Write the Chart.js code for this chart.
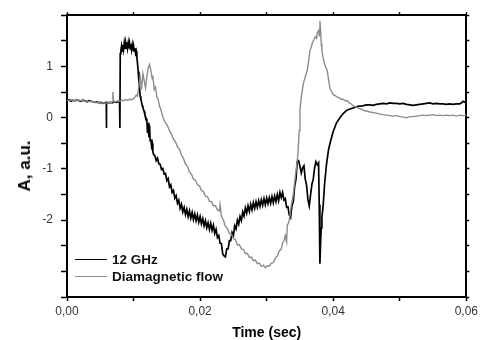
<!DOCTYPE html>
<html>
<head>
<meta charset="utf-8">
<script src="https://cdn.jsdelivr.net/npm/chart.js@4.4.0/dist/chart.umd.min.js"></script>
<style>
    body { margin: 0; background: #fff; }
    #wrap { position: relative; width: 481px; height: 340px; }
    #legend {
        position: absolute; left: 75px; top: 251px;
        font: bold 13.5px "Liberation Sans", Arial, sans-serif; color: #111;
    }
    .row { display: flex; align-items: center; height: 17px; white-space: nowrap; }
    .sw { width: 32px; height: 0; margin-right: 5px; }
    #ytitle {
        position: absolute; left: 25px; top: 166px;
        transform: translate(-50%, -50%) rotate(-90deg);
        font: bold 17px "Liberation Sans", Arial, sans-serif; color: #000; white-space: nowrap;
    }
</style>
</head>
<body>
<div id="wrap">
    <canvas id="chart" width="481" height="340"></canvas>
    <div id="ytitle">A, a.u.</div>
    <div id="legend">
        <div class="row"><span class="sw" style="border-top:1.6px solid #000"></span>12 GHz</div>
        <div class="row"><span class="sw" style="border-top:1.6px solid #8c8c8c"></span>Diamagnetic flow</div>
    </div>
</div>
<script>
// time (sec) and amplitude of the 12 GHz signal
const t12 = [
    0.0000,0.0003,0.0006,0.0009,0.0012,0.0015,0.0018,0.0021,0.0024,0.0027,
    0.0030,0.0033,0.0036,0.0039,0.0042,0.0045,0.0048,0.0051,0.0054,0.0057,
    0.0059,0.00592,0.00595,0.0062,0.0065,0.0068,0.0071,0.0074,0.0077,0.0079,
    0.00795,0.0080,0.0081,0.0082,0.0083,0.0084,0.0085,0.0086,0.0087,0.0088,
    0.0089,0.0090,0.0091,0.0092,0.0093,0.0094,0.0095,0.0096,0.0097,0.0098,
    0.0099,0.0100,0.0101,0.0102,0.0103,0.0104,0.0105,0.0106,0.0107,0.0108,
    0.0109,0.0110,0.0111,0.0112,0.0113,0.0114,0.0115,0.0116,0.0117,0.0118,
    0.0119,0.0120,0.0121,0.0122,0.0123,0.0124,0.0125,0.0126,0.0127,0.0128,
    0.0129,0.0130,0.0132,0.0134,0.0136,0.0138,0.0140,0.0142,0.0144,0.0146,
    0.0148,0.0150,0.0152,0.0154,0.0156,0.0158,0.0160,0.0162,0.0164,0.0166,
    0.0168,0.0170,0.0172,0.0174,0.0176,0.0178,0.0180,0.0182,0.0184,0.0186,
    0.0188,0.0190,0.0192,0.0194,0.0196,0.0198,0.0200,0.0202,0.0204,0.0206,
    0.0208,0.0210,0.0212,0.0214,0.0216,0.0218,0.0220,0.0222,0.0224,0.0226,
    0.0228,0.0230,0.0232,0.0234,0.0236,0.0238,0.0240,0.0242,0.0244,0.0246,
    0.0248,0.0250,0.0252,0.0254,0.0256,0.0258,0.0260,0.0262,0.0264,0.0266,
    0.0268,0.0270,0.0272,0.0274,0.0276,0.0278,0.0280,0.0282,0.0284,0.0286,
    0.0288,0.0290,0.0292,0.0294,0.0296,0.0298,0.0300,0.0302,0.0304,0.0306,
    0.0308,0.0310,0.0312,0.0314,0.0316,0.0318,0.0320,0.0322,0.0324,0.0326,
    0.0328,0.0330,0.0332,0.0334,0.0336,0.0338,0.0340,0.0342,0.0344,0.0346,
    0.0348,0.0350,0.0352,0.0354,0.0356,0.0358,0.0360,0.0362,0.0364,0.0366,
    0.0368,0.0370,0.0372,0.0374,0.0376,0.0378,0.0379,0.0380,0.0381,0.0382,
    0.0383,0.0385,0.0387,0.0390,0.0393,0.0396,0.0400,0.0405,0.0410,0.0415,
    0.0420,0.0425,0.0430,0.0437,0.0444,0.0450,0.0455,0.0460,0.0465,0.0470,
    0.0475,0.0480,0.0485,0.0490,0.0495,0.0500,0.0505,0.0510,0.0515,0.0520,
    0.0525,0.0530,0.0535,0.0540,0.0545,0.0550,0.0555,0.0560,0.0565,0.0570,
    0.0575,0.0580,0.0585,0.0590,0.0593,0.0595,0.0598,0.0600
];
const a12 = [
    0.33,0.35,0.32,0.34,0.33,0.35,0.33,0.32,0.34,0.33,
    0.31,0.33,0.32,0.31,0.30,0.31,0.29,0.30,0.28,0.29,
    0.29,-0.20,0.30,0.29,0.30,0.29,0.31,0.30,0.31,0.30,
    -0.20,1.25,1.32,1.40,1.30,1.42,1.33,1.45,1.34,1.46,
    1.35,1.47,1.36,1.46,1.35,1.45,1.34,1.44,1.33,1.42,
    1.31,1.40,1.30,1.36,1.26,1.30,1.18,1.05,0.90,0.72,
    0.58,0.42,0.36,0.30,0.24,0.20,0.16,0.12,0.06,0.02,
    -0.02,-0.05,-0.30,-0.10,-0.38,-0.15,-0.45,-0.42,-0.55,-0.50,
    -0.66,-0.72,-0.74,-0.84,-0.79,-0.90,-0.91,-1.01,-0.99,-1.10,
    -1.09,-1.23,-1.19,-1.35,-1.31,-1.46,-1.42,-1.57,-1.52,-1.67,
    -1.61,-1.77,-1.69,-1.84,-1.75,-1.89,-1.79,-1.93,-1.82,-1.96,
    -1.85,-1.99,-1.88,-2.01,-1.90,-2.04,-1.93,-2.07,-1.97,-2.11,
    -2.01,-2.15,-2.05,-2.18,-2.06,-2.20,-2.10,-2.26,-2.18,-2.34,
    -2.30,-2.45,-2.46,-2.66,-2.70,-2.72,-2.56,-2.56,-2.40,-2.40,
    -2.24,-2.30,-2.11,-2.17,-2.00,-2.08,-1.93,-2.01,-1.84,-1.92,
    -1.76,-1.86,-1.72,-1.83,-1.69,-1.80,-1.66,-1.77,-1.64,-1.75,
    -1.62,-1.73,-1.60,-1.71,-1.58,-1.70,-1.57,-1.68,-1.56,-1.67,
    -1.54,-1.66,-1.53,-1.64,-1.50,-1.62,-1.46,-1.56,-1.46,-1.61,
    -1.58,-1.75,-1.74,-1.90,-1.95,-1.72,-1.64,-1.35,-1.20,-0.86,
    -0.84,-0.95,-1.08,-0.98,-0.94,-1.20,-1.32,-1.60,-1.72,-1.50,
    -1.30,-1.20,-0.98,-0.86,-0.92,-0.88,-1.70,-2.85,-2.45,-2.15,
    -1.95,-1.70,-1.30,-0.90,-0.62,-0.46,-0.27,-0.10,0.00,0.08,
    0.14,0.17,0.19,0.22,0.23,0.25,0.25,0.24,0.26,0.27,
    0.28,0.27,0.29,0.28,0.28,0.27,0.28,0.26,0.25,0.24,
    0.25,0.26,0.27,0.28,0.29,0.27,0.28,0.27,0.27,0.26,
    0.27,0.26,0.27,0.27,0.29,0.32,0.30,0.31
];

// time (sec) and amplitude of the diamagnetic flow
const tDia = [
    0.0000,0.0003,0.0006,0.0009,0.0012,0.0015,0.0018,0.0021,0.0024,0.0027,
    0.0030,0.0033,0.0036,0.0039,0.0042,0.0045,0.0048,0.0051,0.0054,0.0057,
    0.0060,0.0063,0.0066,0.0068,0.0069,0.0070,0.0073,0.0076,0.0079,0.0082,
    0.0085,0.0088,0.0091,0.0094,0.0097,0.0100,0.0102,0.0104,0.0106,0.0108,
    0.0110,0.0112,0.0114,0.0116,0.0118,0.0120,0.0122,0.0124,0.0126,0.0128,
    0.0129,0.0131,0.0133,0.0135,0.0137,0.0139,0.0141,0.0143,0.0145,0.0148,
    0.0151,0.0154,0.0157,0.0160,0.0163,0.0166,0.0169,0.0172,0.0175,0.0178,
    0.0181,0.0184,0.0187,0.0190,0.0193,0.0196,0.0199,0.0202,0.0205,0.0208,
    0.0211,0.0214,0.0217,0.0220,0.0223,0.0226,0.0229,0.0230,0.0232,0.0235,
    0.0238,0.0241,0.0244,0.0247,0.0250,0.0253,0.0256,0.0259,0.0262,0.0265,
    0.0268,0.0271,0.0274,0.0277,0.0280,0.0283,0.0286,0.0289,0.0292,0.0295,
    0.0298,0.0301,0.0304,0.0307,0.0310,0.0313,0.0316,0.0319,0.0322,0.0324,
    0.0326,0.0328,0.0330,0.0331,0.0333,0.0335,0.0337,0.0339,0.0341,0.0343,
    0.0345,0.0347,0.0349,0.0350,0.0352,0.0355,0.0358,0.0361,0.0363,0.0365,
    0.0367,0.0369,0.0371,0.0373,0.0375,0.0376,0.0378,0.0379,0.0380,0.0381,
    0.0382,0.0383,0.0385,0.0387,0.0389,0.0391,0.0393,0.0395,0.0397,0.0400,
    0.0403,0.0406,0.0409,0.0412,0.0415,0.0418,0.0421,0.0424,0.0427,0.0430,
    0.0434,0.0438,0.0442,0.0446,0.0450,0.0455,0.0460,0.0465,0.0470,0.0475,
    0.0480,0.0485,0.0490,0.0495,0.0500,0.0505,0.0510,0.0515,0.0520,0.0525,
    0.0530,0.0535,0.0540,0.0545,0.0550,0.0555,0.0560,0.0565,0.0570,0.0575,
    0.0580,0.0585,0.0590,0.0595,0.0600
];
const aDia = [
    0.34,0.33,0.35,0.34,0.33,0.35,0.34,0.33,0.34,0.32,
    0.33,0.31,0.32,0.31,0.30,0.29,0.30,0.28,0.29,0.28,
    0.29,0.30,0.29,0.31,0.50,0.33,0.31,0.33,0.32,0.34,
    0.33,0.35,0.34,0.36,0.35,0.37,0.40,0.44,0.42,0.62,
    0.78,0.55,0.86,0.72,0.58,0.80,0.97,1.04,0.92,0.76,
    0.82,0.55,0.60,0.40,0.36,0.22,0.16,0.06,-0.02,-0.10,
    -0.16,-0.26,-0.32,-0.42,-0.47,-0.57,-0.62,-0.73,-0.80,-0.90,
    -0.95,-1.06,-1.10,-1.20,-1.22,-1.31,-1.33,-1.42,-1.44,-1.53,
    -1.54,-1.63,-1.64,-1.72,-1.72,-1.80,-1.82,-1.70,-1.92,-2.00,
    -2.12,-2.16,-2.26,-2.27,-2.36,-2.38,-2.48,-2.48,-2.56,-2.57,
    -2.65,-2.65,-2.73,-2.72,-2.79,-2.78,-2.85,-2.84,-2.90,-2.88,
    -2.93,-2.89,-2.90,-2.84,-2.83,-2.74,-2.70,-2.60,-2.56,-2.44,
    -2.40,-2.30,-2.42,-2.10,-2.05,-1.92,-1.70,-1.58,-1.40,-1.15,
    -0.95,-0.70,-0.25,0.14,0.40,0.66,0.80,0.92,1.10,1.31,
    1.38,1.47,1.52,1.58,1.55,1.66,1.70,1.60,1.89,1.72,
    1.45,1.31,1.16,1.04,0.98,0.92,0.75,0.58,0.52,0.45,
    0.43,0.40,0.39,0.36,0.36,0.33,0.33,0.29,0.27,0.23,
    0.21,0.18,0.17,0.14,0.13,0.11,0.10,0.09,0.07,0.06,
    0.05,0.04,0.03,0.04,0.02,0.01,0.00,0.02,0.02,0.03,
    0.04,0.05,0.04,0.05,0.06,0.04,0.05,0.04,0.05,0.04,
    0.05,0.03,0.05,0.04,0.05
];

// axis ranges and labelled ticks
const xMin = 0, xMax = 0.06, xStep = 0.01;
const yMin = -3.5, yMax = 2, yStep = 0.5;
const yLabelled = [1, 0, -1, -2];

const fontFam = '"Liberation Sans", Arial, sans-serif';

function toPoints(ts, vs) {
    return ts.map((t, i) => ({ x: t, y: vs[i] }));
}

// plain frame axis (top / right): only tick marks, no labels
function frameAxis(position, min, max, step) {
    return {
        type: "linear", position: position, min: min, max: max,
        ticks: { display: false, stepSize: step },
        grid: { drawOnChartArea: false, drawTicks: true, tickLength: 3, tickColor: "#000", tickWidth: 1.5 },
        border: { display: true, color: "#000", width: 2 },
        afterFit: s => { if (s.isHorizontal()) s.height = 0; else s.width = 0; }
    };
}

new Chart(document.getElementById("chart").getContext("2d"), {
    type: "line",
    data: {
        datasets: [
            {
                label: "12 GHz",
                data: toPoints(t12, a12),
                borderColor: "#000", borderWidth: 1.7,
                pointRadius: 0, tension: 0, order: 1
            },
            {
                label: "Diamagnetic flow",
                data: toPoints(tDia, aDia),
                borderColor: "#8c8c8c", borderWidth: 1.4,
                pointRadius: 0, tension: 0, order: 0
            }
        ]
    },
    options: {
        responsive: false,
        animation: false,
        layout: { padding: { left: 0, top: 14, right: 14, bottom: 0 } },
        plugins: { legend: { display: false }, tooltip: { enabled: false } },
        scales: {
            x: {
                type: "linear", position: "bottom", min: xMin, max: xMax,
                ticks: {
                    stepSize: xStep, autoSkip: false, maxRotation: 0, padding: 3,
                    color: "#333", font: { family: fontFam, size: 12 },
                    callback: v => {
                        const k = Math.round(v * 100);
                        return k % 2 === 0 ? (k / 100).toFixed(2).replace(".", ",") : "";
                    }
                },
                grid: { drawOnChartArea: false, drawTicks: true, tickLength: 4, tickColor: "#000", tickWidth: 1.5 },
                border: { display: true, color: "#000", width: 2 },
                title: {
                    display: true, text: "Time (sec)", color: "#000", padding: 0,
                    font: { family: fontFam, size: 14, weight: "bold", lineHeight: 1 }
                },
                afterFit: s => { s.height = 43; }
            },
            y: {
                type: "linear", position: "left", min: yMin, max: yMax,
                ticks: {
                    stepSize: yStep, autoSkip: false, padding: 8,
                    color: "#333", font: { family: fontFam, size: 12 },
                    callback: v => {
                        const r = Math.round(v);
                        return Math.abs(v - r) < 1e-9 && yLabelled.includes(r) ? String(r) : "";
                    }
                },
                grid: { drawOnChartArea: false, drawTicks: true, tickLength: 6, tickColor: "#000", tickWidth: 1.5 },
                border: { display: true, color: "#000", width: 2 },
                afterFit: s => { s.width = 67; }
            },
            x2: frameAxis("top", xMin, xMax, xStep),
            y2: frameAxis("right", yMin, yMax, yStep)
        }
    }
});
</script>
</body>
</html>
